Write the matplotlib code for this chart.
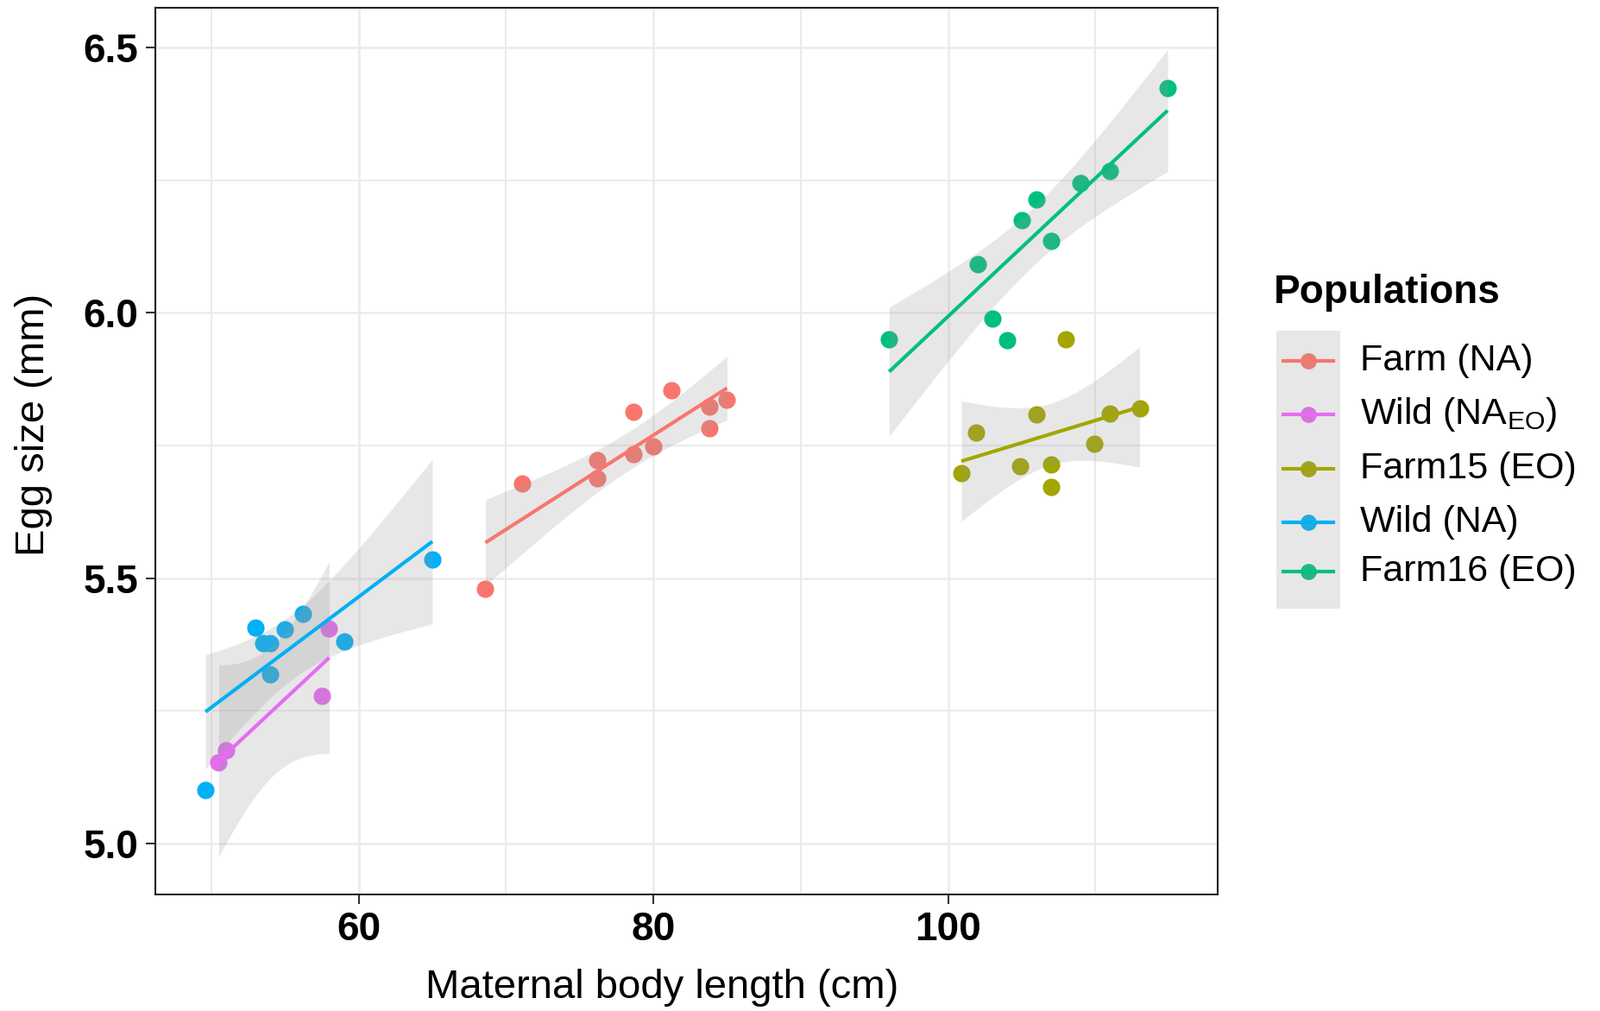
import numpy as np
import matplotlib.pyplot as plt
from matplotlib.patches import Rectangle
from matplotlib.lines import Line2D

plt.rcParams['font.family'] = ['Liberation Sans', 'DejaVu Sans']
plt.rcParams['mathtext.fontset'] = 'custom'
plt.rcParams['mathtext.rm'] = 'Liberation Sans'

# Data
groups = ['Farm (NA)', r'Wild (NA$_{\mathrm{EO}}$)', 'Farm15 (EO)', 'Wild (NA)', 'Farm16 (EO)']
colors = ['#F8766D', '#E76BF3', '#A3A500', '#00B0F6', '#00BF7D']

farm_na_x = [68.6, 71.1, 76.2, 76.2, 78.65, 78.65, 80.0, 81.2, 83.8, 83.8, 85.0]
farm_na_y = [5.480, 5.679, 5.723, 5.689, 5.814, 5.733, 5.749, 5.855, 5.824, 5.783, 5.837]

wild_naeo_x = [50.5, 51.0, 57.5, 58.0]
wild_naeo_y = [5.153, 5.176, 5.278, 5.405]

farm15_x = [100.9, 101.9, 104.9, 106.0, 107.0, 107.0, 108.0, 109.9, 111.0, 113.0]
farm15_y = [5.698, 5.775, 5.711, 5.809, 5.715, 5.672, 5.951, 5.754, 5.811, 5.820]

wild_na_x = [49.6, 53.0, 53.5, 54.0, 55.0, 56.2, 54.0, 59.0, 65.0]
wild_na_y = [5.101, 5.407, 5.378, 5.378, 5.404, 5.432, 5.319, 5.381, 5.536]

farm16_x = [96.0, 102.0, 103.0, 104.0, 105.0, 106.0, 107.0, 109.0, 111.0, 114.9]
farm16_y = [5.951, 6.092, 5.990, 5.949, 6.175, 6.214, 6.136, 6.244, 6.267, 6.423]

xs = [farm_na_x, wild_naeo_x, farm15_x, wild_na_x, farm16_x]
ys = [farm_na_y, wild_naeo_y, farm15_y, wild_na_y, farm16_y]

# 97.5% t quantiles by degrees of freedom (95% CI like geom_smooth)
t975 = {2: 4.3027, 7: 2.3646, 8: 2.3060, 9: 2.2622}

x_ticks = [60, 80, 100]
y_ticks = [5.0, 5.5, 6.0, 6.5]
y_tick_labels = ['5.0', '5.5', '6.0', '6.5']

fig = plt.figure(figsize=(18.54, 11.71), dpi=100)
ax = fig.add_axes([180 / 1854, 1 - 1036 / 1171, 1231 / 1854, 1027 / 1171])

band_color = '#999999'
band_alpha = 0.23

for gx, gy, c in zip(xs, ys, colors):
    ax.scatter(gx, gy, s=210, color=c, linewidths=0, zorder=2)

for gx, gy, c in zip(xs, ys, colors):
    x = np.array(gx)
    y = np.array(gy)
    n = len(x)
    slope, inter = np.polyfit(x, y, 1)
    resid = y - (slope * x + inter)
    s = np.sqrt(np.sum(resid ** 2) / (n - 2))
    sxx = np.sum((x - x.mean()) ** 2)
    grid = np.linspace(x.min(), x.max(), 100)
    fit = slope * grid + inter
    se = s * np.sqrt(1 / n + (grid - x.mean()) ** 2 / sxx)
    half = t975[n - 2] * se
    ax.fill_between(grid, fit - half, fit + half, color=band_color,
                    alpha=band_alpha, linewidth=0, zorder=3)
    ax.plot(grid, fit, color=c, lw=3.0, zorder=4, solid_capstyle='butt')

ax.set_xlim(46.2, 118.3)
ax.set_ylim(4.904, 6.575)
ax.set_xticks(x_ticks)
ax.set_xticks([50, 70, 90, 110], minor=True)
ax.set_yticks(y_ticks)
ax.set_yticklabels(y_tick_labels)
ax.set_yticks([5.25, 5.75, 6.25], minor=True)

ax.set_axisbelow(True)
ax.grid(which='major', color='#ebebeb', lw=1.8)
ax.grid(which='minor', color='#ebebeb', lw=1.4)
for sp in ax.spines.values():
    sp.set_color('#222222')
    sp.set_linewidth(1.5)

ax.tick_params(which='major', length=8, width=1.5, color='#333333',
               labelsize=33, pad=6)
ax.tick_params(which='minor', length=0)
for lab in ax.get_xticklabels() + ax.get_yticklabels():
    lab.set_fontweight('bold')

ax.set_xlabel('Maternal body length (cm)', fontsize=34)
ax.set_ylabel('Egg size (mm)', fontsize=34)
ax.xaxis.set_label_coords(0.477, -0.084)
ax.yaxis.set_label_coords(-0.097, 0.53)

# Legend drawn by hand (grey ribbon fill only behind the keys)
def fx(px):
    return px / 1854

def fy(py):
    return 1 - py / 1171

fig.text(fx(1476), fy(339), 'Populations', fontsize=33, fontweight='bold', va='center')
key_y = [418, 480, 543, 605, 662]
for yy, c in zip(key_y, colors):
    fig.add_artist(Line2D([fx(1516)], [fy(yy)], marker='o', markersize=13.5,
                          markerfacecolor=c, markeredgewidth=0, color=c,
                          transform=fig.transFigure, zorder=1))
fig.add_artist(Rectangle((fx(1479), fy(705)), fx(1553) - fx(1479), fy(383) - fy(705),
                         facecolor=band_color, alpha=band_alpha, linewidth=0,
                         transform=fig.transFigure, zorder=2))
for yy, c, g in zip(key_y, colors, groups):
    fig.add_artist(Line2D([fx(1487), fx(1545)], [fy(yy), fy(yy)], color=c, lw=3.0,
                          transform=fig.transFigure, zorder=3))
    fig.text(fx(1576), fy(yy), g, fontsize=31, va='center')

fig.savefig('out.png', dpi=100)
